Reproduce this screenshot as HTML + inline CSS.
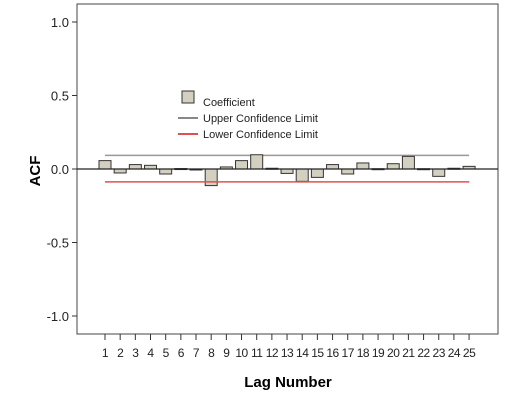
<!DOCTYPE html>
<html><head><meta charset="utf-8"><style>
body{margin:0;background:#fff}
text{font-family:"Liberation Sans",sans-serif}
</style></head><body>
<svg width="505" height="404" xmlns="http://www.w3.org/2000/svg">
<rect x="77" y="4" width="421" height="330" fill="#fff" stroke="#444" stroke-width="1"/>
<g id="g"></g>
<g>
<rect x="182" y="91" width="12" height="12" fill="#d4d0c0" stroke="#333"/>
<text x="203" y="106" font-size="11" fill="#222">Coefficient</text>
<line x1="178" y1="118" x2="198" y2="118" stroke="#888" stroke-width="2"/>
<text x="203" y="122" font-size="11" fill="#222">Upper Confidence Limit</text>
<line x1="178" y1="134" x2="198" y2="134" stroke="#e05050" stroke-width="2"/>
<text x="203" y="138" font-size="11" fill="#222">Lower Confidence Limit</text>
</g>
<text x="288" y="387" font-size="15" font-weight="bold" text-anchor="middle">Lag Number</text>
<text transform="translate(40,171) rotate(-90)" font-size="15" font-weight="bold" text-anchor="middle">ACF</text>
</svg>
<script>
const lags=[1,2,3,4,5,6,7,8,9,10,11,12,13,14,15,16,17,18,19,20,21,22,23,24,25];
const acf=[0.057,-0.027,0.03,0.025,-0.034,0.003,-0.003,-0.113,0.014,0.057,0.097,0.005,-0.03,-0.084,-0.057,0.03,-0.034,0.041,0.002,0.036,0.086,0.002,-0.05,0.005,0.018];
const upper=0.093, lower=-0.088;
const yTicks=[1.0,0.5,0.0,-0.5,-1.0];
const yTickLabels=["1.0","0.5","0.0","-0.5","-1.0"];
const NS="http://www.w3.org/2000/svg";
const g=document.getElementById('g');
const y=v=>169-v*147;
const x=i=>105+(i-1)*15.17;
function mk(t,a){const e=document.createElementNS(NS,t);for(const k in a)e.setAttribute(k,a[k]);g.appendChild(e);return e;}
yTicks.forEach((v,i)=>{
 const l=mk('line',{x1:72,x2:77,y1:y(v),y2:y(v),stroke:'#333'});
 
 
 const t=mk('text',{x:69,y:y(v)+5,'font-size':13,'text-anchor':'end',fill:'#222'});
 t.textContent=yTickLabels[i];
 
 
});
const up=mk('line',{x1:x(1),x2:x(25),y1:y(upper),y2:y(upper),stroke:'#999','stroke-width':1.5});


lags.forEach((L,i)=>{
 const v=acf[i];const y0=y(0),y1=y(v);
 const r=mk('rect',{x:x(L)-6,y:Math.min(y0,y1),width:12,height:Math.max(1,Math.abs(y1-y0)),fill:'#d4d0c0',stroke:'#333','stroke-width':1});
 
 
 const tk=mk('line',{x1:x(L),x2:x(L),y1:334,y2:340,stroke:'#333'});
 
 
 const t=mk('text',{x:x(L),y:357,'font-size':12,'text-anchor':'middle',fill:'#222','letter-spacing':'-0.5'});
 t.textContent=L;
 
 
});
const lo=mk('line',{x1:x(1),x2:x(25),y1:y(lower),y2:y(lower),stroke:'#e05050','stroke-width':1.5});


const z=mk('line',{x1:77,x2:498,y1:y(0),y2:y(0),stroke:'#222','stroke-width':1.2});


</script>
</body></html>
